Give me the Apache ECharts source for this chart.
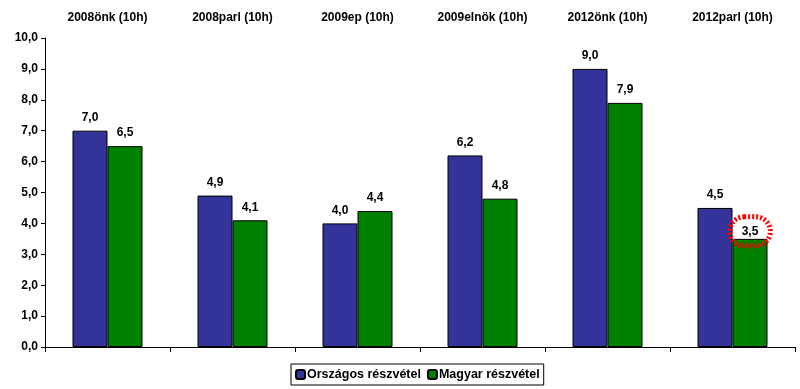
<!DOCTYPE html>
<html>
<head>
<meta charset="utf-8">
<script src="https://cdn.jsdelivr.net/npm/echarts@6/dist/echarts.min.js"></script>
<style>html,body{margin:0;padding:0;background:#fff}#c{width:800px;height:389px}</style>
</head>
<body>
<div id="c"></div>
<script>
var categories = ['2008önk (10h)', '2008parl (10h)', '2009ep (10h)', '2009elnök (10h)', '2012önk (10h)', '2012parl (10h)'];
var orszagos = [7.0, 4.9, 4.0, 6.2, 9.0, 4.5];
var magyar = [6.5, 4.1, 4.4, 4.8, 7.9, 3.5];
var seriesNames = ['Országos részvétel', 'Magyar részvétel'];
var highlightIndex = 5;

var fmt = function (v) { return v.toFixed(1).replace('.', ','); };
var font = 'Liberation Sans, Arial, sans-serif';

var magyarData = magyar.map(function (v, i) {
  if (i === highlightIndex) {
    return {
      value: v,
      label: {
        show: true, position: 'top', distance: -7,
        borderColor: '#ff0000', borderType: [2, 2], borderWidth: 2.5,
        borderRadius: 17, padding: [9, 12, 8, 12], backgroundColor: 'rgba(255,255,255,0)'
      }
    };
  }
  return v;
});

var chart = echarts.init(document.getElementById('c'));
chart.setOption({
  animation: false,
  textStyle: { fontFamily: font },
  grid: { left: 45, right: 5, top: 38, bottom: 42 },
  legend: {
    bottom: 4, left: 291,
    data: seriesNames,
    itemWidth: 9, itemHeight: 9, itemGap: 6,
    borderColor: '#000', borderWidth: 1, padding: [4, 4, 4, 4],
    textStyle: { fontFamily: font, fontWeight: 'bold', fontSize: 12.5, color: '#000', padding: [0, 0, 0, -3] }
  },
  xAxis: [{
    type: 'category', data: categories, position: 'bottom',
    axisLine: { show: true, lineStyle: { color: '#000', width: 1 } },
    axisTick: { show: true, length: 5, lineStyle: { color: '#000' } },
    axisLabel: { show: false }
  }, {
    type: 'category', data: categories, position: 'top',
    axisLine: { show: false }, axisTick: { show: false },
    axisLabel: { show: true, margin: 14, fontFamily: font, fontWeight: 'bold', fontSize: 12, color: '#000' }
  }],
  yAxis: {
    type: 'value', min: 0, max: 10, interval: 1,
    axisLine: { show: true, lineStyle: { color: '#000', width: 1 } },
    axisTick: { show: true, length: 4, lineStyle: { color: '#000' } },
    splitLine: { show: false },
    axisLabel: { formatter: fmt, fontFamily: font, fontWeight: 'bold', fontSize: 12, color: '#000', margin: 7 }
  },
  series: [{
    name: seriesNames[0], type: 'bar', data: orszagos, barWidth: 35, barGap: '0%',
    itemStyle: { color: '#333399', borderColor: '#000', borderWidth: 1 },
    label: { show: true, position: 'top', distance: 7, formatter: function (p) { return fmt(p.value); }, fontFamily: font, fontWeight: 'bold', fontSize: 12, color: '#000' }
  }, {
    name: seriesNames[1], type: 'bar', data: magyarData, barWidth: 35, barGap: '0%',
    itemStyle: { color: '#008000', borderColor: '#000', borderWidth: 1 },
    label: { show: true, position: 'top', distance: 7, formatter: function (p) { return fmt(p.value); }, fontFamily: font, fontWeight: 'bold', fontSize: 12, color: '#000' }
  }]
});
</script>
</body>
</html>
